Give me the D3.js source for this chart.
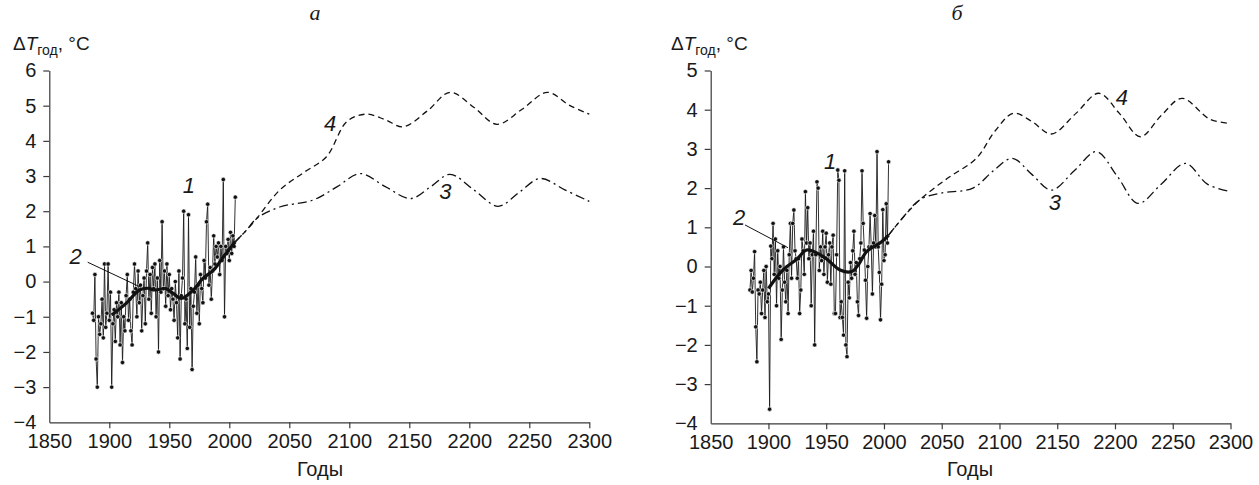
<!DOCTYPE html>
<html>
<head>
<meta charset="utf-8">
<script src="https://cdn.jsdelivr.net/npm/d3@7"></script>
<style>
  body { margin: 0; background: #fff; }
  svg text { font-family: "Liberation Sans", Arial, sans-serif; fill: #1a1a1a; }
  .axis path, .axis line { stroke: #3a3a3a; stroke-width: 1.2; }
  .axis text { font-size: 20px; fill: #1a1a1a; }
</style>
</head>
<body>
<svg id="chart" width="1259" height="485"></svg>
<script>
// --- data: panel а ---
const startA = 1886;
const obsA = [
  -0.9, -1.1, 0.2, -2.2, -3.0, -1.0, -1.5, -1.2, -0.5, -1.6,
  0.5, -1.3, -0.9, 0.5, -1.1, -0.3, -3.0, -1.2, -0.8, -1.7,
  -0.6, -1.0, -0.3, -1.8, -0.6, -2.3, -1.0, -1.4, -0.4, 0.2,
  -1.1, -0.5, -1.4, -1.8, -0.3, 0.5, -0.2, -1.0, 0.3, -0.6,
  -0.1, -1.4, -0.4, 0.1, -1.2, 0.3, 1.1, -0.5, 0.2, -0.9,
  0.4, -0.2, 0.5, -1.0, 0.1, -2.0, 0.6, -0.3, 1.7, -0.2,
  0.3, -0.7, 0.5, -0.4, 0.2, -0.8, -0.2, -0.5, -1.1, 0.0,
  -0.6, -1.6, 0.3, -2.2, -0.4, 0.1, 2.0, -1.2, -0.5, -1.9,
  1.9, -1.3, -0.2, -2.5, -0.7, -0.3, 0.7, -0.9, -0.1, -1.2,
  0.2, -0.2, -0.6, 0.6, 0.1, 1.7, 2.2, -0.1, 0.4, -0.5,
  0.3, 1.3, 0.5, 1.0, 0.7, 1.1, 0.2, 1.0, 0.6, 2.9,
  -1.0, 1.0, 0.8, 1.2, 0.6, 1.4, 0.8, 1.3, 1.0, 2.4
];
const smoothA = [
  [1902, -0.95], [1914, -0.62], [1925, -0.24], [1932, -0.19], [1938, -0.24],
  [1947, -0.2], [1953, -0.33], [1960, -0.48], [1970, -0.24], [1978, 0.09],
  [1987, 0.33], [1995, 0.7], [2005, 1.13]
];
const proj4A = [
  [2005, 1.13], [2014, 1.45], [2023, 1.8], [2042, 2.6], [2062, 3.1], [2081, 3.55],
  [2098, 4.55], [2114, 4.76], [2130, 4.6], [2145, 4.4], [2165, 4.85], [2184, 5.38],
  [2204, 4.95], [2223, 4.47], [2244, 4.9], [2265, 5.38], [2284, 5.0], [2300, 4.76]
];
const proj3A = [
  [2005, 1.13], [2014, 1.45], [2023, 1.8], [2042, 2.12], [2070, 2.32], [2090, 2.7],
  [2109, 3.07], [2130, 2.7], [2151, 2.36], [2168, 2.7], [2184, 3.05], [2204, 2.6],
  [2224, 2.14], [2242, 2.55], [2259, 2.93], [2280, 2.6], [2300, 2.28]
];

// --- data: panel б ---
const startB = 1884;
const obsB = [
  -0.6, -0.1, -0.65, -0.3, 0.38, -1.54, -2.43, -0.6, -0.7, -0.4,
  -1.2, -0.6, -0.1, -1.3, 0.0, -0.9, -0.7, -3.64, 0.52, 0.2,
  1.1, -0.2, 0.7, -1.0, 0.4, -0.3, 0.0, -1.86, -0.6, 0.5,
  -0.4, -0.9, -0.1, -1.2, 0.3, 1.1, -0.3, 1.1, 1.44, 0.4,
  0.2, -0.3, 0.2, -1.2, -0.6, 0.7, 0.4, -0.2, 1.91, 0.6,
  1.5, 0.2, 0.6, -1.0, 0.3, 0.9, -2.0, 0.3, 2.16, 2.0,
  -0.1, 0.5, 0.15, 0.9, -0.2, 0.5, 0.85, -0.4, 0.3, 0.6,
  -0.45, 0.5, 0.8, -1.2, -1.2, 0.3, 2.46, 2.2, -1.3, -0.9,
  -1.3, -1.75, 2.44, -2.0, -2.3, -0.4, -0.8, 0.1, -0.3, 0.4,
  0.9, -0.2, 0.1, -0.9, -1.25, 0.2, 0.6, 2.44, 1.1, 0.42,
  -0.35, -1.32, 0.0, 0.5, 1.35, 0.5, -0.7, 0.6, 1.3, 0.5,
  2.93, 0.5, -0.15, -1.36, -0.45, 1.45, 0.15, 0.3, 1.6, 0.6,
  2.67
];
const smoothB = [
  [1900, -0.56], [1910, -0.17], [1916, 0.0], [1924, 0.17], [1933, 0.42],
  [1941, 0.36], [1950, 0.2], [1962, -0.09], [1972, -0.13], [1978, 0.05],
  [1985, 0.38], [1998, 0.63], [2004, 0.8]
];
const proj4B = [
  [2004, 0.8], [2015, 1.2], [2031, 1.7], [2055, 2.25], [2080, 2.76], [2096, 3.45],
  [2112, 3.91], [2128, 3.7], [2145, 3.38], [2166, 3.9], [2186, 4.42], [2204, 3.9],
  [2222, 3.31], [2240, 3.85], [2258, 4.29], [2282, 3.76], [2300, 3.65]
];
const proj3B = [
  [2004, 0.8], [2015, 1.2], [2031, 1.7], [2049, 1.87], [2077, 2.0], [2095, 2.45],
  [2111, 2.76], [2128, 2.35], [2145, 1.95], [2165, 2.45], [2184, 2.93], [2202, 2.3],
  [2220, 1.61], [2240, 2.1], [2261, 2.63], [2280, 2.1], [2300, 1.91]
];

const xTicks = [1850, 1900, 1950, 2000, 2050, 2100, 2150, 2200, 2250, 2300];
const yTicksA = d3.range(-4, 7);
const yTicksB = d3.range(-4, 6);

// curve labels: [text, year, value]
const labelsA = [["1", 1966.4, 2.74], ["2", 1872, 0.7], ["4", 2084, 4.5], ["3", 2180, 2.55]];
const labelsB = [["1", 1953.3, 2.67], ["2", 1874.5, 1.26], ["4", 2206, 4.32], ["3", 2148, 1.62]];
const leaderA = [[1882, 0.55], [1925.6, -0.15]];
const leaderB = [[1879.7, 1.06], [1916.9, 0.48]];

const panels = [
  { title: "а", titleX: 315, start: startA, obs: obsA, smooth: smoothA, p4: proj4A, p3: proj3A,
    yTicks: yTicksA, labels: labelsA, leader: leaderA,
    left: 49.3, right: 589.3, top: 70.5, bottom: 422.3, ylabX: 13, xlabX: 320 },
  { title: "б", titleX: 957, start: startB, obs: obsB, smooth: smoothB, p4: proj4B, p3: proj3B,
    yTicks: yTicksB, labels: labelsB, leader: leaderB,
    left: 710.7, right: 1230.5, top: 70.5, bottom: 423.3, ylabX: 671, xlabX: 970 }
];

const svg = d3.select("#chart");

panels.forEach(p => {
  const g = svg.append("g");
  const x = d3.scaleLinear().domain([1850, 2300]).range([p.left, p.right]);
  const y = d3.scaleLinear().domain([d3.min(p.yTicks), d3.max(p.yTicks)]).range([p.bottom, p.top]);

  // axes
  const xAxis = g.append("g")
    .attr("class", "axis")
    .attr("transform", `translate(0,${p.bottom})`)
    .call(d3.axisBottom(x).tickValues(xTicks).tickSize(6).tickSizeOuter(0).tickPadding(6).tickFormat(d3.format("d")));
  xAxis.selectAll(".tick").filter(d => d === 1850).select("line").remove();

  const yAxis = g.append("g")
    .attr("class", "axis")
    .attr("transform", `translate(${p.left},0)`)
    .call(d3.axisLeft(y).tickValues(p.yTicks).tickSize(6).tickSizeOuter(0).tickPadding(7));
  yAxis.selectAll(".tick").filter(d => d === -4).select("line").remove();

  // panel title
  g.append("text")
    .attr("x", p.titleX).attr("y", 20)
    .attr("text-anchor", "middle")
    .style("font-family", "'Liberation Serif', 'Times New Roman', serif")
    .style("font-style", "italic")
    .style("font-size", "22px")
    .text(p.title);

  // y label: ΔT_год, °C
  const yl = g.append("text")
    .attr("x", p.ylabX).attr("y", 50)
    .style("font-size", "19px");
  yl.append("tspan").text("Δ");
  yl.append("tspan").style("font-style", "italic").text("T");
  yl.append("tspan").attr("dy", 5).style("font-size", "14px").text("год");
  yl.append("tspan").attr("dy", -5).text(", °C");

  // x label
  g.append("text")
    .attr("x", p.xlabX).attr("y", 476)
    .attr("text-anchor", "middle")
    .style("font-size", "20px")
    .text("Годы");

  // series 1: annual values
  const obs = p.obs.map((v, i) => ({ year: p.start + i, v }));
  const obsLine = d3.line().x(d => x(d.year)).y(d => y(d.v));
  g.append("path").datum(obs)
    .attr("fill", "none").attr("stroke", "#fff").attr("stroke-width", 2.4)
    .attr("d", obsLine);
  g.append("path").datum(obs)
    .attr("fill", "none").attr("stroke", "#1a1a1a").attr("stroke-width", 0.9)
    .attr("d", obsLine);
  g.selectAll("circle.pt").data(obs).enter().append("circle")
    .attr("class", "pt")
    .attr("cx", d => x(d.year)).attr("cy", d => y(d.v))
    .attr("r", 2.2)
    .attr("fill", "#111").attr("stroke", "#fff").attr("stroke-width", 0.6);

  // series 2: smoothed
  const curveLine = d3.line().x(d => x(d[0])).y(d => y(d[1])).curve(d3.curveCatmullRom.alpha(0.5));
  g.append("path").datum(p.smooth)
    .attr("fill", "none").attr("stroke", "#111").attr("stroke-width", 3.2)
    .attr("stroke-linejoin", "round")
    .attr("d", curveLine);

  // series 3 and 4: projections
  g.append("path").datum(p.p3)
    .attr("fill", "none").attr("stroke", "#111").attr("stroke-width", 1.3)
    .attr("stroke-dasharray", "9,4,2,4")
    .attr("d", curveLine);
  g.append("path").datum(p.p4)
    .attr("fill", "none").attr("stroke", "#111").attr("stroke-width", 1.3)
    .attr("stroke-dasharray", "6,4")
    .attr("d", curveLine);

  // leader for label 2
  g.append("line")
    .attr("x1", x(p.leader[0][0])).attr("y1", y(p.leader[0][1]))
    .attr("x2", x(p.leader[1][0])).attr("y2", y(p.leader[1][1]))
    .attr("stroke", "#111").attr("stroke-width", 1);

  // curve labels
  g.selectAll("text.lbl").data(p.labels).enter().append("text")
    .attr("class", "lbl")
    .attr("x", d => x(d[1])).attr("y", d => y(d[2]))
    .attr("text-anchor", "middle")
    .attr("dominant-baseline", "central")
    .style("font-style", "italic")
    .style("font-size", "22px")
    .text(d => d[0]);
});
</script>
</body>
</html>
